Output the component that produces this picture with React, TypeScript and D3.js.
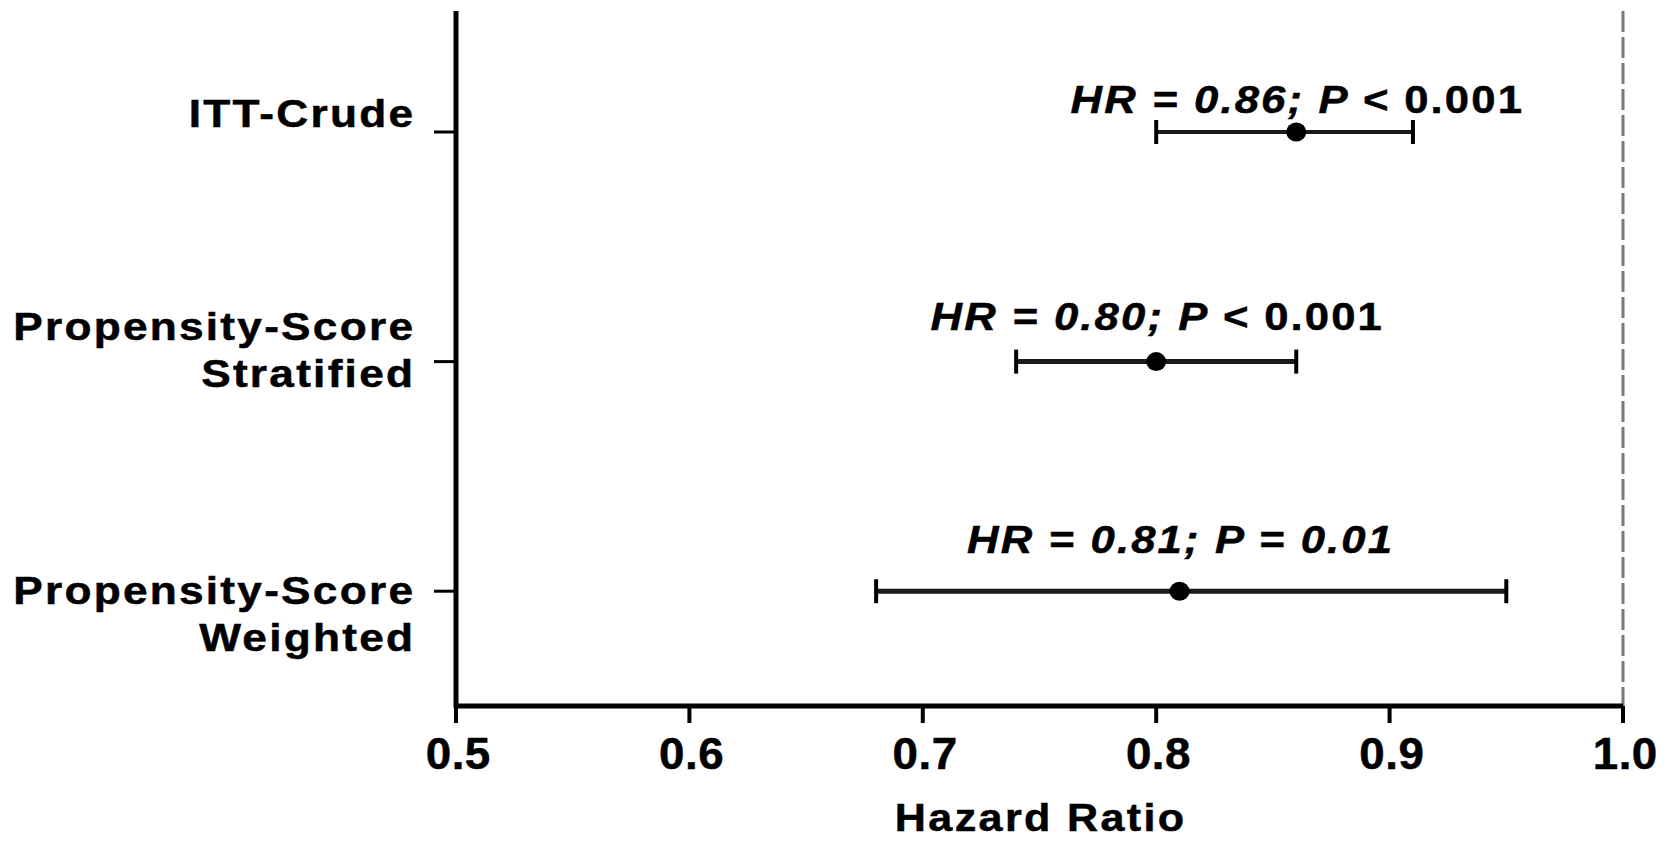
import React from "react";
import * as d3 from "d3";

// Forest plot: hazard ratios with 95% confidence intervals
const categories: string[][] = [
  ["ITT-Crude"],
  ["Propensity-Score", "Stratified"],
  ["Propensity-Score", "Weighted"],
];
const hazardRatios = [0.86, 0.8, 0.81];
const ciLower = [0.8, 0.74, 0.68];
const ciUpper = [0.91, 0.86, 0.95];
const pOperators = ["<", "<", "="];
const pValues = ["0.001", "0.001", "0.01"];
const xTicks = [0.5, 0.6, 0.7, 0.8, 0.9, 1.0];
const xTickLabels = ["0.5", "0.6", "0.7", "0.8", "0.9", "1.0"];
const referenceHR = 1.0;
const xTitle = "Hazard Ratio";

const W = 1670;
const H = 841;
const FONT = "'Liberation Sans', Arial, Helvetica, sans-serif";

// per-row text placement (vertical offsets from the row line)
const labelOffsets = [-5, -22, 13];
const labelLineGap = 47;
const annotationOffsets = [-19, -32, -38];
const pUpright = [true, true, false];

// horizontally widened text, like the figure's wide bold sans face
function WideText(props: {
  x: number;
  y: number;
  sx?: number;
  anchor?: "start" | "middle" | "end";
  size: number;
  spacing?: number;
  children: React.ReactNode;
}) {
  const { x, y, sx = 1.12, anchor = "start", size, spacing = 0, children } = props;
  // letter-spacing adds a trailing gap; compensate so anchoring stays true
  const shift = anchor === "end" ? spacing : anchor === "middle" ? spacing / 2 : 0;
  return (
    <g transform={`translate(${x},${y}) scale(${sx},1)`}>
      <text
        x={shift}
        y={0}
        textAnchor={anchor}
        fontSize={size}
        letterSpacing={spacing}
        fill="#000"
        stroke="#000"
        strokeWidth={0.5}
        style={{ whiteSpace: "pre" }}
      >
        {children}
      </text>
    </g>
  );
}

export default function App() {
  const x = d3.scaleLinear().domain([0.5, 1.0]).range([456, 1623]);
  const y = d3.scaleLinear().domain([-0.527, 2.5]).range([11, 706]);
  const axisY = y(2.5);
  const axisTop = y(-0.527);
  const axisX = x(0.5);

  return (
    <svg
      width={W}
      height={H}
      style={{ position: "absolute", left: 0, top: 0, background: "#fff" }}
      fontFamily={FONT}
      fontWeight="bold"
    >
      <rect x={0} y={0} width={W} height={H} fill="#fff" />

      {/* reference line at HR = 1 */}
      <line
        x1={x(referenceHR)}
        x2={x(referenceHR)}
        y1={axisTop}
        y2={axisY}
        stroke="#7a7a7a"
        strokeWidth={3}
        strokeDasharray="21 5"
      />

      {/* y axis */}
      <line x1={axisX} x2={axisX} y1={axisTop} y2={axisY + 2} stroke="#000" strokeWidth={5} />
      {/* x axis */}
      <line x1={axisX - 2} x2={x(1.0)} y1={axisY} y2={axisY} stroke="#000" strokeWidth={5} />

      {/* x ticks and labels */}
      {xTicks.map((t, i) => (
        <g key={"xt" + i}>
          <line x1={x(t)} x2={x(t)} y1={axisY} y2={axisY + 17} stroke="#000" strokeWidth={4} />
          <WideText x={x(t) + 2} y={769} anchor="middle" size={44} sx={1.04} spacing={0.5}>
            {xTickLabels[i]}
          </WideText>
        </g>
      ))}

      <WideText x={(x(0.5) + x(1.0)) / 2} y={831} anchor="middle" size={38.5} spacing={2.1}>
        {xTitle}
      </WideText>

      {/* rows */}
      {categories.map((lines, i) => {
        const ry = y(i);
        return (
          <g key={"row" + i}>
            <line x1={434} x2={axisX} y1={ry} y2={ry} stroke="#000" strokeWidth={3} />
            {lines.map((ln, j) => (
              <WideText
                key={j}
                x={413}
                y={ry + labelOffsets[i] + j * labelLineGap}
                anchor="end"
                size={39.5}
                spacing={2.0}
              >
                {ln}
              </WideText>
            ))}

            {/* confidence interval */}
            <line
              x1={x(ciLower[i])}
              x2={x(ciUpper[i])}
              y1={ry}
              y2={ry}
              stroke="#1a1a1a"
              strokeWidth={i === 0 ? 4 : 5}
            />
            <line x1={x(ciLower[i])} x2={x(ciLower[i])} y1={ry - 12} y2={ry + 12} stroke="#000" strokeWidth={4} />
            <line x1={x(ciUpper[i])} x2={x(ciUpper[i])} y1={ry - 12} y2={ry + 12} stroke="#000" strokeWidth={4} />
            <ellipse cx={x(hazardRatios[i])} cy={ry} rx={10} ry={9.5} fill="#000" />

            {/* annotation */}
            <WideText
              x={x(hazardRatios[i])}
              y={ry + annotationOffsets[i]}
              anchor="middle"
              size={39}
              spacing={1.9}
            >
              <tspan fontStyle="italic">{`HR = ${hazardRatios[i].toFixed(2)}; P ${pOperators[i]} `}</tspan>
              <tspan fontStyle={pUpright[i] ? "normal" : "italic"}>{pValues[i]}</tspan>
            </WideText>
          </g>
        );
      })}
    </svg>
  );
}
